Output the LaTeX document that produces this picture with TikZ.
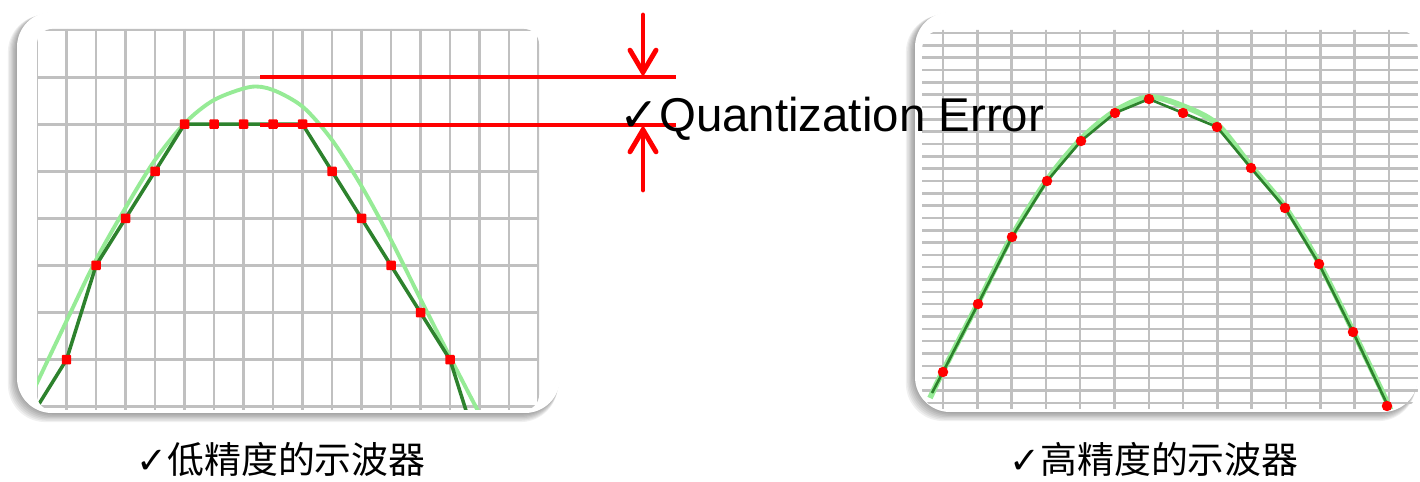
\documentclass[tikz,border=0pt]{standalone}
\usepackage{fontspec}
\setmainfont{Liberation Sans}
\newfontfamily\cjkfont{Noto Sans CJK SC}
\newfontfamily\symfont{DejaVu Sans}
\usepackage{xcolor}
\usetikzlibrary{arrows.meta}

\definecolor{gridgray}{RGB}{192,192,192}
\definecolor{truegreen}{RGB}{150,235,150}
\definecolor{quantgreen}{RGB}{45,130,45}
\definecolor{errred}{RGB}{255,0,0}

\begin{document}
\begin{tikzpicture}[
        x=0.02cm, y=-0.02cm,
        panel/.style={fill=white, rounded corners=0.7cm},
        panelshade/.style={fill=black, opacity=0.06, rounded corners=0.75cm},
        coarsegrid/.style={draw=gridgray, line width=1.7pt},
        finegrid/.style={draw=gridgray, line width=1.4pt},
        truesig/.style={draw=truegreen, line width=2.2pt},
        quantsig/.style={draw=quantgreen, line width=2pt, line join=round},
        lowdot/.style={rectangle, fill=errred, inner sep=0pt, minimum size=0.19cm, rounded corners=0.02cm},
        highdot/.style={circle, fill=errred, inner sep=0pt, minimum size=0.21cm},
        errline/.style={draw=errred, line width=2.8pt},
        errarrow/.style={draw=errred, line width=2.8pt, line cap=round, -{Straight Barb[length=0.44cm, width=0.52cm, line cap=round]}},
        caption/.style={inner sep=0pt, font=\cjkfont\fontsize{21}{24}\selectfont}
    ]
    \useasboundingbox (0,0) rectangle (1420,482);

    % low resolution screen
    \foreach \s in {1,...,7}
        \fill[panelshade] (17-\s*1.3,12+\s*0.4) rectangle (560-\s*0.3,413+\s*1.3);
    \fill[panel] (17,12) rectangle (560,413);
    \begin{scope}
        \clip[rounded corners=0.3cm] (37,29) rectangle (539,410);
        \foreach \k in {0,...,17}
            \draw[coarsegrid] (37+\k*29.5,29) -- (37+\k*29.5,410);
        \foreach \k in {0,...,8}
            \draw[coarsegrid] (37,30+\k*47.1) -- (539,30+\k*47.1);
        \draw[truesig] plot[smooth] coordinates {(30,398) (37,383) (67,320) (96,260) (126,207) (155,160) (185,123) (214,100) (250,87) (273,90) (303,107) (332,140) (362,187) (391,240) (421,300) (450,357) (479,413) (485,425)};
        \draw[quantsig] (34,412) -- (66.5,359.7) -- (96,265.5) -- (125.5,218.4) -- (155,171.3) -- (184.5,124.2) -- (302.5,124.2) -- (332,171.3) -- (361.5,218.4) -- (391,265.5) -- (420.5,312.6) -- (450,359.7) -- (469,420);
    \end{scope}
    \foreach \x/\y [count=\i] in {66.5/359.7, 96/265.5, 125.5/218.4, 155/171.3, 184.5/124.2, 214/124.2, 243.5/124.2, 273/124.2, 302.5/124.2, 332/171.3, 361.5/218.4, 391/265.5, 420.5/312.6, 450/359.7}
        \node[lowdot] (lo\i) at (\x,\y) {};

    % high resolution screen
    \foreach \s in {1,...,7}
        \fill[panelshade] (915-\s*1.3,12+\s*0.4) rectangle (1418-\s*0.3,412+\s*1.3);
    \fill[panel] (915,12) rectangle (1418,412);
    \begin{scope}
        \clip[rounded corners=0.4cm] (922,30) rectangle (1418,409);
        \foreach \k in {0,...,14}
            \draw[finegrid] (943+\k*34.3,29) -- (943+\k*34.3,410);
        \foreach \k in {0,...,30}
            \draw[finegrid] (922,33+\k*12.33) -- (1418,33+\k*12.33);
        \draw[truesig, line width=3.2pt] plot[smooth] coordinates {(930,398) (943,371) (978,303) (1012,236) (1047,180) (1081,139) (1115,111) (1149,97) (1183,106) (1217,124) (1251,166) (1285,207) (1319,263) (1353,331) (1387,402) (1392,414)};
        \draw[quantsig, line width=1.5pt] (932,393) -- (943,372) -- (978,304) -- (1012,237) -- (1047,181) -- (1081,141) -- (1115,113) -- (1149,99) -- (1183,113) -- (1217,127) -- (1251,168) -- (1285,208) -- (1319,264) -- (1353,332) -- (1387,404) -- (1392,414);
    \end{scope}
    \foreach \x/\y [count=\i] in {943/372, 978/304, 1012/237, 1047/181, 1081/141, 1115/113, 1149/99, 1183/113, 1217/127, 1251/168, 1285/208, 1319/264, 1353/332, 1387/406}
        \node[highdot] (hi\i) at (\x,\y) {};

    % quantization step markers
    \coordinate (stepTopW) at (260,77);
    \coordinate (stepTopE) at (676,77);
    \coordinate (stepBotW) at (260,125);
    \coordinate (stepBotE) at (676,125);
    \coordinate (arrTopS) at (643,15);
    \coordinate (arrBotS) at (643,190);
    \draw[errline] (stepTopW) -- (stepTopE);
    \draw[errline] (stepBotW) -- (stepBotE);
    \draw[errarrow] (arrTopS) -- (643,77);
    \draw[errarrow] (arrBotS) -- (643,125);

    \node[anchor=base west, inner sep=0pt, font=\fontsize{27}{30}\selectfont] (qerr) at (619,132) {{\symfont ✓}Quantization Error};

    \node[caption] (lowcap) at (281,459) {{\symfont ✓}低精度的示波器};
    \node[caption] (highcap) at (1154,459) {{\symfont ✓}高精度的示波器};
\end{tikzpicture}
\end{document}
